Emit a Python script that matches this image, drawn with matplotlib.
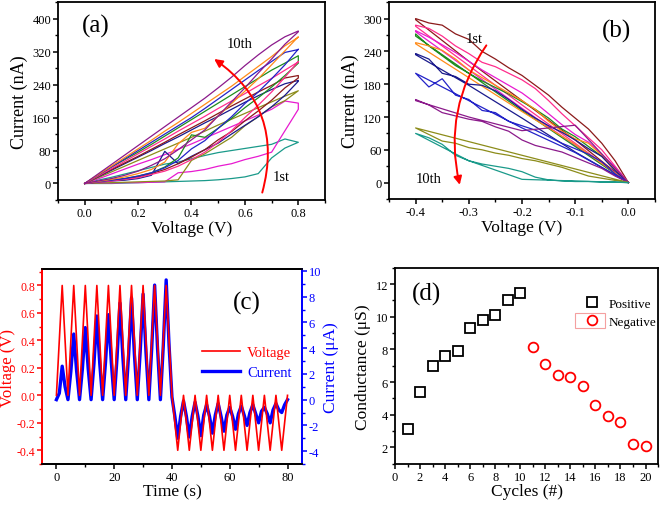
import matplotlib
matplotlib.use("Agg")
import matplotlib.pyplot as plt
from matplotlib.ticker import MultipleLocator
from matplotlib.patches import Rectangle

plt.rcParams['font.family'] = ['Liberation Serif', 'DejaVu Serif']
plt.rcParams['axes.unicode_minus'] = False

# ---------------- data ----------------
# (a) set sweeps, voltage grid 0 -> 0.8 V
va = [0.0, 0.05, 0.1, 0.15, 0.2, 0.25, 0.3, 0.35, 0.4, 0.45, 0.5, 0.55, 0.6, 0.65, 0.7, 0.75, 0.8]
a_colors = ['#1a9a8a', '#e81ad0', '#8c8c1a', '#1a1a8c', '#8b1a1a',
            '#1e8c1e', '#ff2d8c', '#2323c8', '#ff8c1a', '#8b1a8b']
a_forward = [
    [0, 0, 0, 1, 2, 3, 4, 5, 6, 7, 9, 12, 16, 24, 62, 86, 100],
    [0, 1, 1, 2, 2, 3, 4, 26, 29, 34, 42, 48, 58, 66, 76, 128, 180],
    [0, 1, 2, 3, 4, 5, 6, 9, 56, 72, 92, 112, 140, 162, 186, 201, 225],
    [0, 3, 6, 8, 12, 20, 78, 48, 66, 82, 98, 120, 141, 162, 186, 214, 248],
    [0, 4, 7, 11, 16, 24, 34, 48, 64, 82, 106, 126, 152, 176, 202, 232, 256],
    [0, 4, 8, 12, 18, 26, 40, 62, 118, 112, 134, 158, 184, 208, 234, 262, 292],
    [0, 3, 6, 10, 14, 22, 30, 42, 58, 76, 100, 128, 160, 190, 222, 258, 296],
    [0, 4, 8, 12, 18, 26, 38, 56, 84, 104, 134, 162, 194, 222, 254, 288, 326],
    [0, 5, 10, 16, 24, 34, 52, 96, 124, 134, 164, 194, 224, 254, 288, 322, 356],
    [0, 6, 12, 20, 30, 44, 60, 82, 106, 130, 164, 198, 232, 268, 302, 338, 368],
]
a_backward = [
    [0, 8, 15, 23, 31, 39, 47, 52, 60, 68, 75, 80, 85, 90, 95, 108, 100],
    [0, 11, 23, 35, 47, 58, 70, 83, 96, 110, 124, 138, 152, 166, 180, 200, 195],
    [0, 14, 28, 42, 56, 70, 84, 98, 112, 127, 142, 156, 170, 184, 198, 212, 225],
    [0, 16, 32, 48, 64, 80, 97, 113, 130, 147, 163, 180, 197, 213, 228, 242, 250],
    [0, 17, 34, 50, 66, 83, 100, 118, 135, 152, 170, 188, 205, 222, 238, 256, 262],
    [0, 20, 40, 58, 76, 95, 115, 135, 155, 175, 195, 215, 235, 255, 275, 292, 310],
    [0, 18, 36, 54, 72, 90, 108, 127, 145, 163, 182, 200, 218, 237, 255, 275, 295],
    [0, 20, 40, 60, 80, 100, 120, 140, 160, 182, 205, 228, 251, 274, 296, 318, 325],
    [0, 21, 42, 63, 84, 105, 127, 148, 170, 192, 214, 236, 260, 284, 308, 334, 355],
    [0, 23, 46, 69, 92, 115, 138, 161, 184, 207, 232, 258, 286, 312, 336, 356, 370],
]

# (b) reset sweeps, voltage grid -0.4 -> 0 V
vb = [-0.4, -0.375, -0.35, -0.325, -0.3, -0.275, -0.25, -0.225, -0.2,
      -0.175, -0.15, -0.125, -0.1, -0.075, -0.05, -0.025, 0.0]
vb_out = [0.0, -0.1, -0.2, -0.3, -0.4]
b_colors = ['#8b1a1a', '#ff2d8c', '#e81ad0', '#1e8c1e', '#ff8c1a',
            '#1a1a8c', '#2323c8', '#8b1a8b', '#8c8c1a', '#1a9a8a']
b_return = [
    [300, 292, 288, 272, 262, 240, 226, 210, 196, 178, 160, 138, 118, 98, 72, 40, 0],
    [288, 282, 268, 250, 236, 220, 212, 200, 188, 172, 150, 126, 104, 82, 60, 30, 0],
    [278, 266, 252, 238, 222, 206, 192, 178, 164, 146, 126, 106, 88, 74, 52, 28, 0],
    [272, 250, 232, 214, 200, 186, 174, 162, 148, 134, 118, 98, 84, 66, 48, 24, 0],
    [256, 250, 242, 226, 206, 192, 178, 164, 150, 134, 112, 94, 80, 72, 50, 24, 0],
    [236, 226, 200, 194, 180, 178, 168, 152, 134, 118, 104, 92, 78, 62, 48, 22, 0],
    [200, 175, 190, 160, 152, 132, 128, 112, 104, 96, 84, 72, 62, 52, 38, 16, 0],
    [152, 142, 128, 122, 116, 112, 102, 94, 78, 68, 62, 56, 46, 36, 26, 12, 0],
    [100, 88, 76, 72, 64, 60, 54, 50, 44, 40, 34, 28, 20, 12, 8, 4, 0],
    [90, 82, 70, 50, 40, 34, 30, 26, 20, 10, 5, 3, 2, 2, 1, 1, 0],
]
b_out = [
    [0, 78, 150, 222, 298],
    [0, 72, 142, 214, 286],
    [0, 68, 136, 206, 276],
    [0, 66, 132, 200, 268],
    [0, 70, 130, 192, 254],
    [0, 56, 118, 178, 234],
    [0, 55, 100, 150, 200],
    [0, 105, 95, 120, 150],
    [0, 25, 50, 75, 100],
    [0, 3, 6, 40, 90],
]

# (c) pulse train
time_s = list(range(0, 81))
voltage = [0, 0.4, 0.8, 0.4] * 10 + [0, -0.2, -0.4, -0.2] * 10 + [0]
current = [
    0.0, 0.5, 2.6, 1.0, 0.0, 2.2, 5.1, 2.2, 0.0, 2.4,
    5.6, 2.4, 0.0, 2.8, 6.5, 2.8, 0.0, 2.9, 6.6, 2.9,
    0.0, 3.3, 7.5, 3.3, 0.0, 3.5, 7.9, 3.5, 0.0, 3.7,
    8.2, 3.7, 0.0, 4.0, 8.9, 4.0, 0.0, 4.2, 9.3, 4.2,
    0.2, -1.3, -3.0, -1.3, -0.1, -1.3, -2.9, -1.3, -0.2, -1.3,
    -2.8, -1.2, -0.4, -1.3, -2.6, -1.2, -0.3, -1.3, -2.45, -1.2,
    -0.6, -1.3, -2.3, -1.1, -0.5, -1.2, -2.0, -1.0, -0.4, -1.1,
    -1.8, -0.9, -0.6, -1.1, -1.8, -0.8, -0.3, -0.8, -1.0, -0.4,
    0.0,
]

# (d) conductance
cyc_pos = [1, 2, 3, 4, 5, 6, 7, 8, 9, 10]
g_pos = [3.15, 5.4, 6.97, 7.6, 7.9, 9.3, 9.82, 10.1, 11.0, 11.45]
cyc_neg = [11, 12, 13, 14, 15, 16, 17, 18, 19, 20]
g_neg = [8.12, 7.08, 6.45, 6.33, 5.77, 4.57, 3.93, 3.57, 2.2, 2.1]

# ---------------- figure ----------------
fig = plt.figure(figsize=(6.61, 5.06), dpi=100)
ax_a = fig.add_axes([0.0877, 0.6028, 0.404, 0.391])
ax_b = fig.add_axes([0.5885, 0.6047, 0.4024, 0.389])
ax_c = fig.add_axes([0.0635, 0.081, 0.3933, 0.3854])
ax_d = fig.add_axes([0.5976, 0.0816, 0.3979, 0.3874])

TICK = 9
LAB = 12.5


def style(ax):
    for s in ax.spines.values():
        s.set_linewidth(1.3)
    ax.tick_params(which='both', direction='out', top=False, right=False,
                   labelsize=TICK, pad=1.5)
    ax.tick_params(which='major', length=3.5, width=1.1)
    ax.tick_params(which='minor', length=2, width=1.0)


# (a)
for col, fw, bw in zip(a_colors, a_forward, a_backward):
    ax_a.plot(va + va[::-1], fw + bw[::-1], color=col, lw=0.9)
ax_a.xaxis.set_major_locator(MultipleLocator(0.2))
ax_a.xaxis.set_minor_locator(MultipleLocator(0.1))
ax_a.yaxis.set_major_locator(MultipleLocator(80))
ax_a.yaxis.set_minor_locator(MultipleLocator(40))
ax_a.set_xlim(-0.1, 0.9)
ax_a.set_ylim(-40, 440)
style(ax_a)
ax_a.set_xlabel('Voltage (V)', fontsize=LAB, labelpad=1)
ax_a.set_ylabel('Current (nA)', fontsize=LAB + 0.5, labelpad=3)
ax_a.text(0.04, 384, '(a)', fontsize=18, ha='center', va='center')
ax_a.text(0.58, 340, '10th', fontsize=10.5, ha='center', va='center')
ax_a.text(0.735, 18, '1st', fontsize=10.5, ha='center', va='center')
ax_a.annotate('', xy=(0.485, 302), xytext=(0.665, -22),
              arrowprops=dict(arrowstyle='-|>', color='red', lw=1.4, mutation_scale=12,
                              shrinkA=0, shrinkB=0, connectionstyle='arc3,rad=0.35'))

# (b)
for col, ret, out in zip(b_colors, b_return, b_out):
    ax_b.plot(vb_out + vb, out + ret, color=col, lw=0.9)
ax_b.xaxis.set_major_locator(MultipleLocator(0.1))
ax_b.xaxis.set_minor_locator(MultipleLocator(0.05))
ax_b.yaxis.set_major_locator(MultipleLocator(60))
ax_b.yaxis.set_minor_locator(MultipleLocator(30))
ax_b.set_xlim(-0.45, 0.05)
ax_b.set_ylim(-30, 330)
style(ax_b)
ax_b.set_xlabel('Voltage (V)', fontsize=LAB, labelpad=1)
ax_b.set_ylabel('Current (nA)', fontsize=LAB + 0.5, labelpad=3)
ax_b.text(-0.022, 278, '(b)', fontsize=18, ha='center', va='center')
ax_b.text(-0.29, 263, '1st', fontsize=10.5, ha='center', va='center')
ax_b.text(-0.376, 7, '10th', fontsize=10.5, ha='center', va='center')
ax_b.annotate('', xy=(-0.317, -4), xytext=(-0.267, 251),
              arrowprops=dict(arrowstyle='-|>', color='red', lw=1.4, mutation_scale=12,
                              shrinkA=0, shrinkB=0, connectionstyle='arc3,rad=0.22'))

# (c)
ax_c2 = ax_c.twinx()
lv, = ax_c.plot(time_s, voltage, color='red', lw=1.2, label='Voltage')
lc, = ax_c2.plot(time_s, current, color='blue', lw=2.4, label='Current')
ax_c.set_zorder(ax_c2.get_zorder() + 1)
ax_c.patch.set_visible(False)
ax_c.set_xlim(-5, 85)
ax_c.set_ylim(-0.5, 0.92)
ax_c2.set_ylim(-5, 10.15)
ax_c.xaxis.set_major_locator(MultipleLocator(20))
ax_c.xaxis.set_minor_locator(MultipleLocator(10))
ax_c.yaxis.set_major_locator(MultipleLocator(0.2))
ax_c.yaxis.set_minor_locator(MultipleLocator(0.1))
ax_c2.yaxis.set_major_locator(MultipleLocator(2))
ax_c2.yaxis.set_minor_locator(MultipleLocator(1))
style(ax_c)
ax_c.tick_params(axis='y', labelsize=8.5)
for s in ax_c2.spines.values():
    s.set_linewidth(1.3)
ax_c.spines['left'].set_color('red')
ax_c2.spines['left'].set_color('red')
ax_c2.spines['right'].set_color('blue')
ax_c.spines['right'].set_color('blue')
ax_c.tick_params(axis='y', which='both', colors='red')
ax_c2.tick_params(axis='y', which='both', colors='blue', direction='out',
                  labelsize=TICK, pad=1.5)
ax_c2.tick_params(axis='y', which='major', length=3.5, width=1.1)
ax_c2.tick_params(axis='y', which='minor', length=2, width=1.0)
ax_c.set_xlabel('Time (s)', fontsize=LAB, labelpad=0)
ax_c.set_ylabel('Voltage (V)', fontsize=12, color='red')
ax_c.yaxis.set_label_coords(-0.1, 0.5)
ax_c2.set_ylabel('Current (μA)', fontsize=LAB, color='blue', labelpad=1)
ax_c.text(66, 0.68, '(c)', fontsize=18, ha='center', va='center')
leg = ax_c.legend(handles=[lv, lc], loc='center right', bbox_to_anchor=(1.0, 0.52),
                  frameon=False, fontsize=10.5, handlelength=2.6, handletextpad=0.5,
                  labelspacing=0.5, borderaxespad=0.3)
leg.get_texts()[0].set_color('red')
leg.get_texts()[1].set_color('blue')

# (d)
ax_d.plot(cyc_pos, g_pos, ls='none', marker='s', ms=6.5, mfc='none', mec='black',
          mew=1.3, label='Positive')
ax_d.plot(cyc_neg, g_neg, ls='none', marker='o', ms=7, mfc='none', mec='red',
          mew=1.3, label='Negative')
ax_d.set_xlim(0, 21)
ax_d.set_ylim(1, 13)
ax_d.xaxis.set_major_locator(MultipleLocator(2))
ax_d.xaxis.set_minor_locator(MultipleLocator(1))
ax_d.yaxis.set_major_locator(MultipleLocator(2))
ax_d.yaxis.set_minor_locator(MultipleLocator(1))
style(ax_d)
ax_d.set_xlabel('Cycles (#)', fontsize=LAB, labelpad=0)
ax_d.set_ylabel('Conductance (μS)', fontsize=LAB, labelpad=3)
ax_d.text(2.5, 11.4, '(d)', fontsize=18, ha='center', va='center')
ax_d.legend(loc='upper right', bbox_to_anchor=(1.02, 0.88), frameon=False, fontsize=9.5,
            handletextpad=0.3, labelspacing=0.4, borderaxespad=0.1)
ax_d.add_patch(Rectangle((0.684, 0.692), 0.114, 0.077, transform=ax_d.transAxes,
                         fill=False, edgecolor='#f4a0a0', lw=0.8))

fig.savefig('out.png', dpi=100)
